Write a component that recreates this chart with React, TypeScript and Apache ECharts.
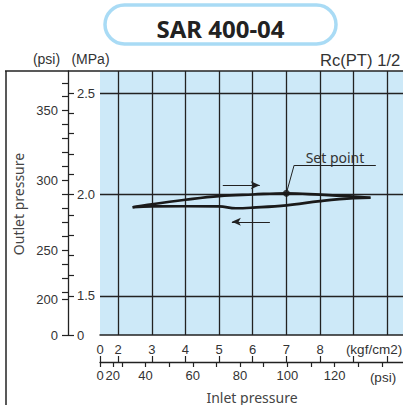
import React, { useEffect, useRef } from "react";
import * as echarts from "echarts";

// Curve data: inlet pressure (kgf/cm2) vs outlet pressure (MPa)
const inletUpper = [2.43, 3, 4, 5, 6, 7, 8, 9, 9.5];
const outletUpper = [1.937, 1.952, 1.974, 1.992, 2.0, 2.006, 1.999, 1.99, 1.984];
const inletLower = [9.5, 9, 8, 7, 6, 5.5, 5, 4, 3, 2.43];
const outletLower = [1.984, 1.982, 1.967, 1.946, 1.935, 1.932, 1.941, 1.942, 1.941, 1.937];
const setPoint = [7.0, 2.006];

// Axis ticks / labels
const kgfGridLines = [2, 3, 4, 5, 6, 7, 8, 9, 10, 11];
const kgfTicks = [0, 2, 3, 4, 5, 6, 7, 8, 9, 10, 11];
const kgfLabels = [0, 2, 3, 4, 5, 6, 7, 8];
const psiXTicks = [0, 20, 30, 40, 50, 60, 70, 80, 90, 100, 110, 120, 130, 140, 150];
const psiXLabels = [0, 20, 40, 60, 80, 100, 120];
const mpaGridLines = [1.5, 2.0, 2.5];
const mpaTicks = [0, 1.5, 1.6, 1.7, 1.8, 1.9, 2.0, 2.1, 2.2, 2.3, 2.4, 2.5];
const mpaLabels = [0, 1.5, 2.0, 2.5];
const psiYTicks = [0, 200, 220, 230, 240, 250, 260, 270, 280, 290, 300, 310, 320, 330, 340, 350, 360, 370];
const psiYLabels = [0, 200, 250, 300, 350];

// Arrows and annotation (data coordinates)
const arrowUpper = [[5.11, 2.046], [6.21, 2.046]];
const arrowLower = [[6.51, 1.865], [5.38, 1.865]];
const leaderCorner = [7.23, 2.144];
const leaderEnd = [9.66, 2.144];

// Broken-axis mapping
const X_MIN = 1.46; // display position of kgf 0
const X_MAX = 11.27;
const Y_MIN = 1.307; // display position of MPa 0
const Y_MAX = 2.609;
const PSI_PER_KGF = 14.223;
const PSI_PER_MPA = 145.04;

const kgfToU = (k: number) => (k >= 2 ? k : X_MIN + (k * (2 - X_MIN)) / 2);
const psiToU = (p: number) => kgfToU(p / PSI_PER_KGF);
const mpaToV = (m: number) => (m >= 1.5 ? m : Y_MIN + (m * (1.5 - Y_MIN)) / 1.5);
const psiToV = (p: number) => mpaToV(p / PSI_PER_MPA);

const makeFormatter = (vals: number[], mapped: number[], fmt: (v: number) => string) => (v: number) => {
  let best = 0;
  for (let i = 1; i < mapped.length; i++) {
    if (Math.abs(mapped[i] - v) < Math.abs(mapped[best] - v)) best = i;
  }
  return fmt(vals[best]);
};

const FONT = "Liberation Sans";
const TXT = "#333";
const LINE = "#222";

export default function App() {
  const ref = useRef<HTMLDivElement>(null);
  useEffect(() => {
    if (!ref.current) return;
    const chart = echarts.init(ref.current, undefined, { renderer: "svg" });

    const kgfLabelU = kgfLabels.map(kgfToU);
    const psiXLabelU = psiXLabels.map(psiToU);
    const mpaLabelV = mpaLabels.map(mpaToV);
    const psiYLabelV = psiYLabels.map(psiToV);

    const axisLabelBase = { fontFamily: FONT, fontSize: 13, color: TXT };

    chart.setOption({
      animation: false,
      grid: {
        left: 100,
        top: 71,
        width: 330,
        height: 264,
        show: true,
        backgroundColor: "#cde9f8",
        borderWidth: 0,
        containLabel: false,
        outerBoundsMode: "none",
      },
      xAxis: [
        {
          type: "value",
          min: X_MIN,
          max: X_MAX,
          position: "bottom",
          axisLine: { show: true, onZero: false, lineStyle: { color: LINE, width: 1.5 } },
          axisTick: { show: false, customValues: kgfGridLines },
          splitLine: { show: true, lineStyle: { color: LINE, width: 1.3 } },
          axisLabel: {
            ...axisLabelBase,
            margin: 8,
            customValues: kgfLabelU,
            formatter: makeFormatter(kgfLabels, kgfLabelU, (v) => String(v)),
          },
        },
        {
          type: "value",
          min: X_MIN,
          max: X_MAX,
          position: "bottom",
          offset: 27,
          axisLine: { show: true, onZero: false, lineStyle: { color: LINE, width: 1.3 } },
          axisTick: {
            show: true,
            inside: false,
            length: 5,
            customValues: psiXTicks.map(psiToU),
            lineStyle: { color: LINE, width: 1.2 },
          },
          splitLine: { show: false },
          axisLabel: {
            ...axisLabelBase,
            margin: 7,
            customValues: psiXLabelU,
            formatter: makeFormatter(psiXLabels, psiXLabelU, (v) => String(v)),
          },
        },
        {
          type: "value",
          min: X_MIN,
          max: X_MAX,
          position: "bottom",
          offset: 27,
          axisLine: { show: false, onZero: false },
          axisTick: {
            show: true,
            inside: true,
            length: 6,
            customValues: kgfTicks.map(kgfToU),
            lineStyle: { color: LINE, width: 1.2 },
          },
          splitLine: { show: false },
          axisLabel: { show: false },
        },
      ],
      yAxis: [
        {
          type: "value",
          min: Y_MIN,
          max: Y_MAX,
          position: "left",
          axisLine: { show: false },
          axisTick: { show: false, customValues: mpaGridLines },
          splitLine: { show: true, lineStyle: { color: LINE, width: 1.3 } },
          axisLabel: { show: false },
        },
        {
          type: "value",
          min: Y_MIN,
          max: Y_MAX,
          position: "left",
          offset: 32,
          axisLine: { show: true, onZero: false, lineStyle: { color: LINE, width: 1.3 } },
          axisTick: {
            show: true,
            inside: true,
            length: 6,
            customValues: mpaTicks.map(mpaToV),
            lineStyle: { color: LINE, width: 1.2 },
          },
          splitLine: { show: false },
          axisLabel: {
            ...axisLabelBase,
            inside: true,
            margin: 9,
            customValues: mpaLabelV,
            formatter: makeFormatter(mpaLabels, mpaLabelV, (v) => (v === 0 ? "0" : v.toFixed(1))),
          },
        },
        {
          type: "value",
          min: Y_MIN,
          max: Y_MAX,
          position: "left",
          offset: 32,
          axisLine: { show: false },
          axisTick: {
            show: true,
            inside: false,
            length: 6,
            customValues: psiYTicks.map(psiToV),
            lineStyle: { color: LINE, width: 1.2 },
          },
          splitLine: { show: false },
          axisLabel: {
            ...axisLabelBase,
            margin: 10,
            customValues: psiYLabelV,
            formatter: makeFormatter(psiYLabels, psiYLabelV, (v) => String(v)),
          },
        },
      ],
      series: [
        {
          type: "line",
          xAxisIndex: 0,
          yAxisIndex: 0,
          data: inletUpper.map((x, i) => [x, outletUpper[i]]),
          smooth: 0.4,
          showSymbol: false,
          lineStyle: { color: "#1a1a1a", width: 2.7 },
          markLine: {
            silent: true,
            symbol: ["none", "arrow"],
            symbolSize: [6, 9],
            lineStyle: { color: "#222", width: 1, type: "solid" },
            label: { show: false },
            data: [
              [{ coord: arrowUpper[0] }, { coord: arrowUpper[1] }],
              [{ coord: arrowLower[0] }, { coord: arrowLower[1] }],
              [
                { coord: setPoint, symbol: "none" },
                { coord: leaderCorner, symbol: "none" },
              ],
              [
                {
                  coord: leaderCorner,
                  symbol: "none",
                  label: {
                    show: true,
                    position: "insideMiddleTop",
                    formatter: "Set point",
                    fontFamily: "Noto Sans",
                    fontSize: 14,
                    color: "#333",
                    distance: 1,
                  },
                },
                { coord: leaderEnd, symbol: "none" },
              ],
            ],
          },
        },
        {
          type: "line",
          xAxisIndex: 0,
          yAxisIndex: 0,
          data: inletLower.map((x, i) => [x, outletLower[i]]),
          smooth: 0.4,
          showSymbol: false,
          lineStyle: { color: "#1a1a1a", width: 2.7 },
        },
        {
          type: "scatter",
          xAxisIndex: 0,
          yAxisIndex: 0,
          data: [setPoint],
          symbolSize: 7,
          itemStyle: { color: "#111" },
        },
      ],
      graphic: [
        {
          type: "rect",
          shape: { x: 105, y: 5, width: 231, height: 39, r: 19.5 },
          style: { fill: "#fff", stroke: "#a9dbf5", lineWidth: 3.5 },
        },
        {
          type: "text",
          x: 220.5,
          y: 28.5,
          style: {
            text: "SAR 400-04",
            fontFamily: "Noto Sans",
            fontWeight: "bold",
            fontSize: 24,
            fill: "#222",
            align: "center",
            verticalAlign: "middle",
          },
        },
        {
          type: "text",
          x: 46.5,
          y: 59,
          style: { text: "(psi)", fontFamily: FONT, fontSize: 14, fill: TXT, align: "center", verticalAlign: "middle" },
        },
        {
          type: "text",
          x: 90.5,
          y: 59,
          style: { text: "(MPa)", fontFamily: FONT, fontSize: 14, fill: TXT, align: "center", verticalAlign: "middle" },
        },
        {
          type: "text",
          x: 320,
          y: 60,
          style: { text: "Rc(PT) 1/2", fontFamily: FONT, fontSize: 16.6, fill: TXT, align: "left", verticalAlign: "middle" },
        },
        {
          type: "text",
          x: 374,
          y: 349,
          style: { text: "(kgf/cm2)", fontFamily: FONT, fontSize: 13.5, fill: TXT, align: "center", verticalAlign: "middle" },
        },
        {
          type: "text",
          x: 383,
          y: 377,
          style: { text: "(psi)", fontFamily: FONT, fontSize: 13.5, fill: TXT, align: "center", verticalAlign: "middle" },
        },
        {
          type: "text",
          x: 252,
          y: 397,
          style: { text: "Inlet pressure", fontFamily: "Noto Sans", fontSize: 14, fill: "#444", align: "center", verticalAlign: "middle" },
        },
        {
          type: "text",
          x: 18,
          y: 204,
          rotation: Math.PI / 2,
          style: { text: "Outlet pressure", fontFamily: "Noto Sans", fontSize: 14, fill: "#444", align: "center", verticalAlign: "middle" },
        },
        {
          type: "line",
          shape: { x1: 5, y1: 71, x2: 403, y2: 71 },
          style: { stroke: LINE, lineWidth: 1.5 },
          z: 10,
        },
        {
          type: "line",
          shape: { x1: 6, y1: 71, x2: 6, y2: 405 },
          style: { stroke: LINE, lineWidth: 1.5 },
          z: 10,
        },
      ],
    });

    return () => chart.dispose();
  }, []);

  return (
    <div
      ref={ref}
      style={{ position: "absolute", left: 0, top: 0, width: 403, height: 405, background: "#fff" }}
    />
  );
}
